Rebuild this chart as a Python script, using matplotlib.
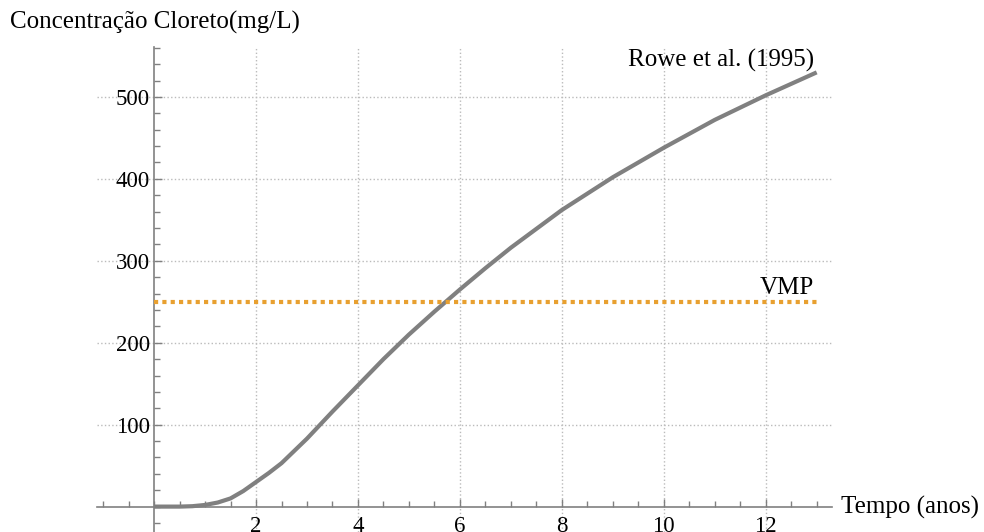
import matplotlib.pyplot as plt
from matplotlib.ticker import MultipleLocator, FixedLocator

plt.rcParams['font.family'] = ['Liberation Serif', 'DejaVu Serif']

# curve
tempo = [0, 0.5, 0.75, 1.0, 1.25, 1.5, 1.75, 2.0, 2.25, 2.5, 3.0, 3.5, 4.0,
         4.5, 5.0, 5.5, 6.0, 6.5, 7.0, 7.5, 8.0, 8.5, 9.0, 9.5, 10.0, 10.5,
         11.0, 11.5, 12.0, 12.5, 13.0]
cloreto = [0, 0, 0.5, 2, 5, 10, 19, 30, 41, 53, 83, 116, 148,
           180, 210, 238, 265, 291, 316, 339, 362, 382, 402, 420, 438, 455,
           472, 487, 502, 516, 530]
vmp = 250
x_ticks = [2, 4, 6, 8, 10, 12]
y_ticks = [100, 200, 300, 400, 500]

fig = plt.figure(figsize=(9.84, 5.32), dpi=100)
ax = fig.add_axes([0.0986, 0.0, 0.7469, 0.9117])

ax.plot(tempo, cloreto, color='#808080', lw=3, solid_capstyle='butt',
        solid_joinstyle='round', zorder=3)
ax.plot([0, 13], [vmp, vmp], color='#E8A030', lw=3, ls=(0, (1, 1)), zorder=3)

ax.set_xlim(-1.12, 13.3)
ax.set_ylim(-31, 561)

for s in ['top', 'right']:
    ax.spines[s].set_visible(False)
ax.spines['left'].set_position(('data', 0))
ax.spines['bottom'].set_position(('data', 0))
for s in ['left', 'bottom']:
    ax.spines[s].set_color('#808080')
    ax.spines[s].set_linewidth(1.2)

ax.xaxis.set_major_locator(FixedLocator(x_ticks))
ax.xaxis.set_minor_locator(MultipleLocator(0.5))
ax.yaxis.set_major_locator(FixedLocator(y_ticks))
ax.yaxis.set_minor_locator(MultipleLocator(20))
ax.tick_params(which='both', direction='in', color='#808080', labelsize=16.5)
ax.tick_params(which='major', length=6, width=1)
ax.tick_params(which='minor', length=4, width=1)
ax.tick_params(axis='x', pad=7)
ax.tick_params(axis='y', pad=3)

ax.grid(True, which='major', ls=':', color='#bbbbbb', lw=1)
ax.set_axisbelow(True)

ax.text(12.95, 530, 'Rowe et al. (1995)', fontsize=18, ha='right', va='bottom')
ax.text(12.95, 254, 'VMP', fontsize=18, ha='right', va='bottom')

fig.text(0.01, 0.958, 'Concentração Cloreto(mg/L)', fontsize=18, ha='left', va='center')
fig.text(0.855, 0.047, 'Tempo (anos)', fontsize=18, ha='left', va='center')

fig.savefig('out.png', dpi=100)
